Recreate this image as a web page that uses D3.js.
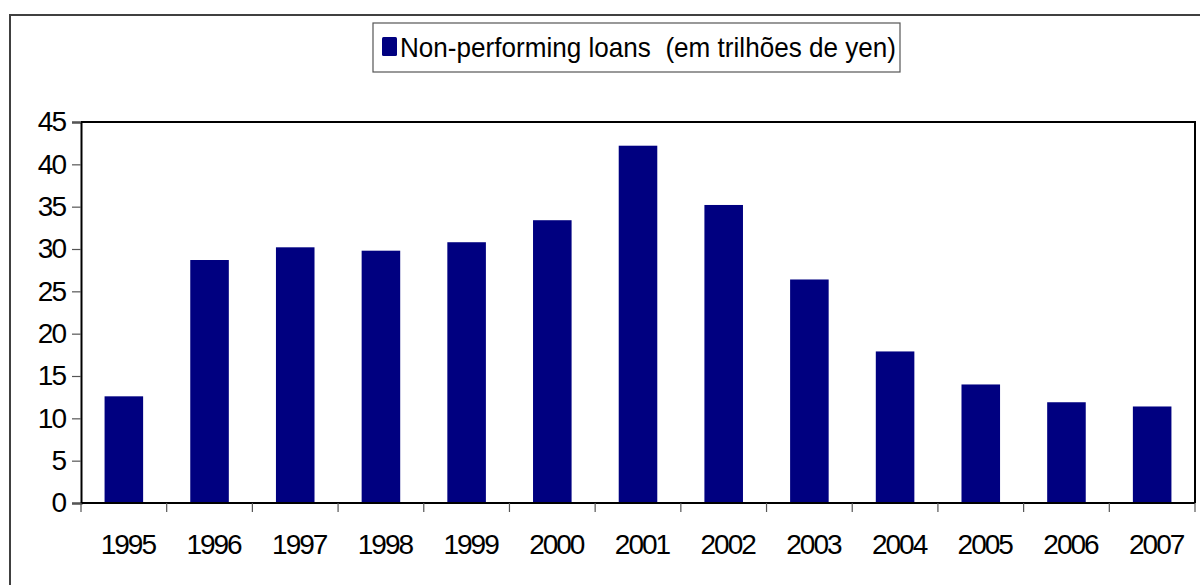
<!DOCTYPE html>
<html>
<head>
<meta charset="utf-8">
<script src="https://cdn.jsdelivr.net/npm/d3@7"></script>
<style>
  body { margin: 0; background: #fff; }
  svg { display: block; font-family: "Liberation Sans", Arial, sans-serif; }
</style>
</head>
<body>
<svg id="chart" width="1200" height="585"></svg>
<script>
// data
var years = ["1995","1996","1997","1998","1999","2000","2001","2002","2003","2004","2005","2006","2007"];
var loans = [12.6, 28.7, 30.2, 29.8, 30.8, 33.4, 42.2, 35.2, 26.4, 17.9, 14.0, 11.9, 11.4];
var yTicks = [0, 5, 10, 15, 20, 25, 30, 35, 40, 45];
var seriesName = "Non-performing loans  (em trilhões de yen)";

var svg = d3.select("#chart");
var navy = "#000080";
var fontSize = 28;

// outer frame, runs off the right and bottom of the picture
svg.append("rect")
  .attr("x", 10).attr("y", 15)
  .attr("width", 1200).attr("height", 600)
  .attr("fill", "none")
  .attr("stroke", "#404040")
  .attr("stroke-width", 2);

var plot = { left: 81, top: 122, right: 1195, bottom: 503 };

var x = d3.scaleBand()
  .domain(years)
  .range([plot.left, plot.right])
  .paddingInner(0.55)
  .paddingOuter(0.275);

var y = d3.scaleLinear()
  .domain([0, 45])
  .range([plot.bottom, plot.top]);

// bars
svg.append("g").selectAll("rect")
  .data(loans)
  .enter().append("rect")
  .attr("x", function(d, i){ return x(years[i]); })
  .attr("y", function(d){ return y(d); })
  .attr("width", x.bandwidth())
  .attr("height", function(d){ return y(0) - y(d); })
  .attr("fill", navy);

// plot area border (top and right sides)
svg.append("path")
  .attr("d", "M" + plot.left + "," + plot.top + "H" + plot.right + "V" + plot.bottom)
  .attr("fill", "none")
  .attr("stroke", "#000")
  .attr("stroke-width", 2);

// y axis
var yAxis = d3.axisLeft(y)
  .tickValues(yTicks)
  .tickSize(9)
  .tickPadding(7)
  .tickFormat(d3.format("d"));

var gy = svg.append("g")
  .attr("transform", "translate(" + plot.left + ",0)")
  .call(yAxis);
gy.select(".domain").attr("stroke", "#000").attr("stroke-width", 2);
gy.selectAll(".tick line").attr("stroke", "#555").attr("stroke-width", 1.2);
gy.selectAll(".tick text")
  .attr("font-size", fontSize)
  .attr("letter-spacing", "-2px")
  .attr("fill", "#000")
  .attr("font-family", "Liberation Sans, Arial, sans-serif");

// x axis: ticks sit on the band boundaries
var boundaries = years.map(function(d){ return x(d) - x.step() * x.paddingInner() / 2; });
boundaries.push(plot.right);

var gx = svg.append("g");
gx.append("line")
  .attr("x1", plot.left).attr("x2", plot.right)
  .attr("y1", plot.bottom).attr("y2", plot.bottom)
  .attr("stroke", "#000").attr("stroke-width", 2);
gx.selectAll("line.tick")
  .data(boundaries)
  .enter().append("line")
  .attr("class", "tick")
  .attr("x1", function(d){ return d; }).attr("x2", function(d){ return d; })
  .attr("y1", plot.bottom).attr("y2", plot.bottom + 9)
  .attr("stroke", "#555").attr("stroke-width", 1.2);
gx.selectAll("text")
  .data(years)
  .enter().append("text")
  .attr("x", function(d){ return x(d) + x.bandwidth() / 2 + 4; })
  .attr("y", 554)
  .attr("text-anchor", "middle")
  .attr("font-size", fontSize)
  .attr("letter-spacing", "-2px")
  .attr("fill", "#000")
  .text(function(d){ return d; });

// legend
var legend = svg.append("g");
legend.append("rect")
  .attr("x", 373).attr("y", 23)
  .attr("width", 527).attr("height", 49)
  .attr("fill", "#fff")
  .attr("stroke", "#555")
  .attr("stroke-width", 1.2);
legend.append("rect")
  .attr("x", 382).attr("y", 37)
  .attr("width", 15).attr("height", 19)
  .attr("rx", 1.5)
  .attr("fill", navy);
legend.append("text")
  .attr("x", 400).attr("y", 57)
  .attr("font-size", fontSize)
  .attr("fill", "#000")
  .attr("textLength", 496)
  .attr("lengthAdjust", "spacingAndGlyphs")
  .style("white-space", "pre")
  .text(seriesName);
</script>
</body>
</html>
